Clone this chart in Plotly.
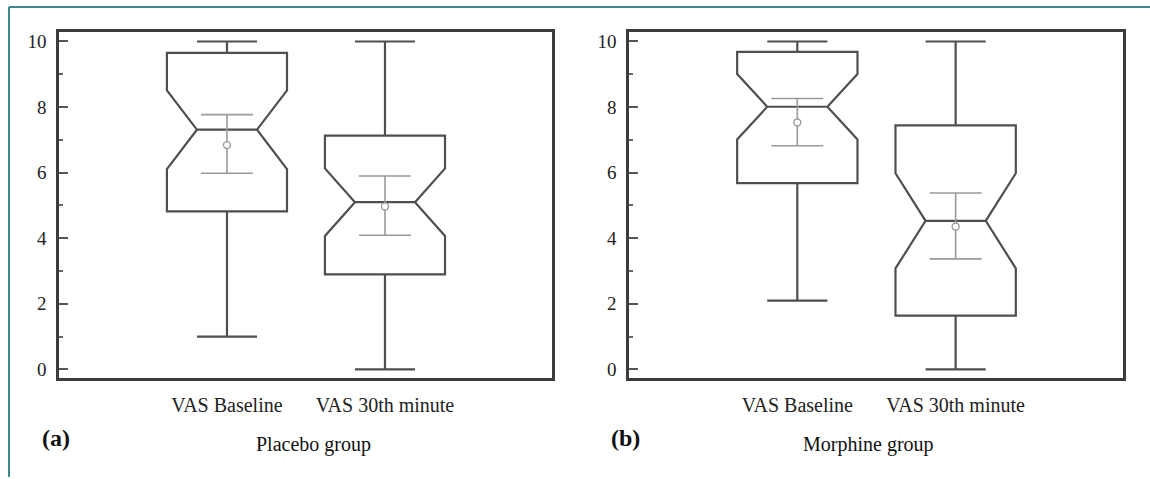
import plotly.graph_objects as go

# ---- data ----
categories = ["VAS Baseline", "VAS 30th minute"]

placebo_lower = [1.0, 0.0]
placebo_q1 = [4.82, 2.90]
placebo_median = [7.31, 5.10]
placebo_q3 = [9.65, 7.13]
placebo_upper = [10.0, 10.0]
placebo_notch = [1.20, 1.03]
placebo_mean = [6.84, 4.97]
placebo_ci_low = [5.98, 4.09]
placebo_ci_high = [7.77, 5.90]

morphine_lower = [2.1, 0.0]
morphine_q1 = [5.68, 1.64]
morphine_median = [8.01, 4.53]
morphine_q3 = [9.68, 7.44]
morphine_upper = [10.0, 10.0]
morphine_notch = [1.00, 1.45]
morphine_mean = [7.53, 4.36]
morphine_ci_low = [6.82, 3.37]
morphine_ci_high = [8.26, 5.38]

y_ticks = [0, 2, 4, 6, 8, 10]

W, H = 1150, 479
FONT = "Liberation Serif"
BOX_COL = "#4f4f4f"
FRAME_COL = "#3c3c3c"
CI_COL = "#9a9a9a"
TEAL = "#3b8a8e"

fig = go.Figure()

panels = [
    ("x", "y", placebo_lower, placebo_q1, placebo_median, placebo_q3, placebo_upper,
     placebo_notch, placebo_mean, placebo_ci_low, placebo_ci_high),
    ("x2", "y2", morphine_lower, morphine_q1, morphine_median, morphine_q3, morphine_upper,
     morphine_notch, morphine_mean, morphine_ci_low, morphine_ci_high),
]

for xa, ya, lo, q1, med, q3, up, notch, mean, cil, cih in panels:
    for i in range(len(categories)):
        fig.add_trace(go.Box(
            x=[i], q1=[q1[i]], median=[med[i]], q3=[q3[i]],
            lowerfence=[lo[i]], upperfence=[up[i]], notchspan=[notch[i]],
            notched=True, notchwidth=0.25, width=0.76, whiskerwidth=0.5,
            boxpoints=False, line=dict(color=BOX_COL, width=2.2),
            fillcolor="rgba(0,0,0,0)", xaxis=xa, yaxis=ya, showlegend=False,
            hoverinfo="skip",
        ))
    fig.add_trace(go.Scatter(
        x=list(range(len(categories))), y=mean, mode="markers",
        error_y=dict(type="data", symmetric=False,
                     array=[h - m for h, m in zip(cih, mean)],
                     arrayminus=[m - l for m, l in zip(mean, cil)],
                     color=CI_COL, thickness=1.6, width=26),
        marker=dict(symbol="circle", size=7, color="white",
                    line=dict(color=CI_COL, width=1.4)),
        xaxis=xa, yaxis=ya, showlegend=False, hoverinfo="skip",
    ))

ydom = [1 - 379.3 / H, 1 - 31.5 / H]
xdom1 = [59 / W, 552 / W]
xdom2 = [629 / W, 1123 / W]

xcommon = dict(range=[-1.063, 2.057], tickvals=[0, 1], ticktext=categories,
               showline=True, mirror=True, linecolor=FRAME_COL, linewidth=2.6,
               ticks="", showgrid=False, zeroline=False, ticklabelstandoff=7,
               tickfont=dict(family=FONT, size=20, color="#222"))
ycommon = dict(range=[-0.26, 10.28], tickvals=y_ticks,
               showline=True, mirror=True, linecolor=FRAME_COL, linewidth=2.6,
               ticks="inside", ticklen=9, tickwidth=2, tickcolor="#555",
               minor=dict(ticks="inside", ticklen=4, tickwidth=1.5, tickcolor="#666", dtick=1),
               showgrid=False, zeroline=False, ticklabelstandoff=6,
               tickfont=dict(family=FONT, size=19, color="#222"))

fig.update_layout(
    width=W, height=H, margin=dict(l=0, r=0, t=0, b=0),
    paper_bgcolor="white", plot_bgcolor="white",
    xaxis=dict(domain=xdom1, anchor="y", **xcommon),
    yaxis=dict(domain=ydom, anchor="x", **ycommon),
    xaxis2=dict(domain=xdom2, anchor="y2", **xcommon),
    yaxis2=dict(domain=ydom, anchor="x2", **ycommon),
    showlegend=False,
)

# outer teal frame (top and left edges)
fig.add_shape(type="line", xref="paper", yref="paper",
              x0=9 / W, x1=1, y0=1 - 6 / H, y1=1 - 6 / H,
              line=dict(color=TEAL, width=2))
fig.add_shape(type="line", xref="paper", yref="paper",
              x0=9 / W, x1=9 / W, y0=0, y1=1 - 6 / H,
              line=dict(color=TEAL, width=2))

annots = [
    ("<b>(a)</b>", 56, 440, 24),
    ("<b>(b)</b>", 625.5, 440, 24),
    ("Placebo group", 313, 446, 20),
    ("Morphine group", 868, 446, 20),
]
for txt, px, py, fs in annots:
    fig.add_annotation(text=txt, xref="paper", yref="paper",
                       x=px / W, y=1 - py / H, xanchor="center", yanchor="middle",
                       showarrow=False, font=dict(family=FONT, size=fs, color="#111"))

fig.write_html("out.html", config={"displayModeBar": False},
               post_script="document.body.style.margin='0';document.body.style.overflow='hidden';")
